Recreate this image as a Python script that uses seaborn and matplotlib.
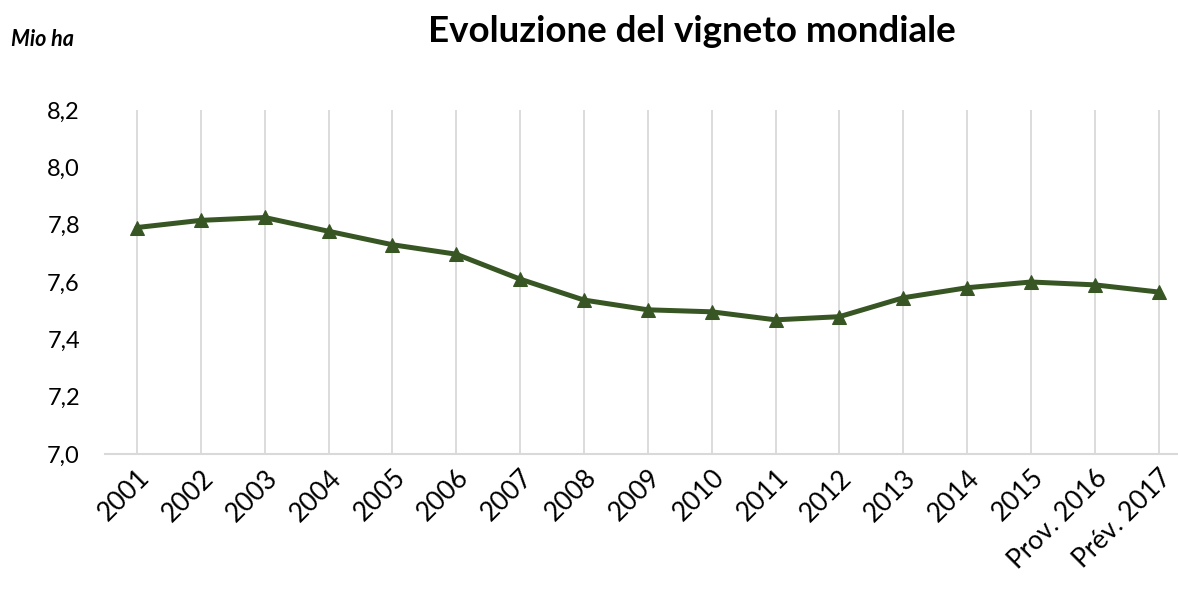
import matplotlib
matplotlib.use("Agg")
import matplotlib.pyplot as plt
import seaborn as sns
import pandas as pd
import numpy as np

categories = ["2001", "2002", "2003", "2004", "2005", "2006", "2007", "2008", "2009",
              "2010", "2011", "2012", "2013", "2014", "2015", "Prov. 2016", "Prév. 2017"]
values = [7.79, 7.815, 7.825, 7.777, 7.73, 7.697, 7.61, 7.537, 7.503,
          7.496, 7.468, 7.479, 7.545, 7.58, 7.60, 7.59, 7.565]
yticks = [7.0, 7.2, 7.4, 7.6, 7.8, 8.0, 8.2]

sns.set_theme(style="white")
plt.rcParams['font.family'] = ['Lato', 'DejaVu Sans']

df = pd.DataFrame({"idx": np.arange(len(categories)), "val": values})

fig = plt.figure(figsize=(11.78, 5.93), dpi=100)
ax = fig.add_axes([105/1178, (593-454)/593, (1178-105)/1178, (454-110)/593])

ax.grid(False)
for i in range(len(categories)):
    ax.axvline(i, color="#D9D9D9", lw=1.3, zorder=0)

color = "#375623"
sns.lineplot(data=df, x="idx", y="val", ax=ax, color=color, lw=3.6,
             marker="^", markersize=10, markeredgecolor=color, markerfacecolor=color,
             zorder=3)

ax.set_ylim(7.0, 8.2)
ax.set_xlim(-0.5, 16 + (1178 - 1158.7) / 63.84)
ax.set_yticks(yticks)
ax.set_yticklabels([f"{v:.1f}".replace(".", ",") for v in yticks], fontsize=17, color="#000000")
ax.set_xticks(range(len(categories)))
ax.set_xticklabels(categories, rotation=45, ha="right", rotation_mode="anchor",
                   fontsize=19, color="#000000")
ax.tick_params(axis="both", length=0)
ax.tick_params(axis="y", pad=18)
ax.tick_params(axis="x", pad=8)
ax.set_xlabel("")
ax.set_ylabel("")

for s in ["top", "right", "left"]:
    ax.spines[s].set_visible(False)
ax.spines["bottom"].set_color("#D9D9D9")
ax.spines["bottom"].set_linewidth(1.5)

fig.text(0.587, 1 - 31/593, "Evoluzione del vigneto mondiale", ha="center", va="center",
         fontsize=26.5, fontweight="bold", color="#000000")
fig.text(11/1178, 1 - 40/593, "Mio ha", ha="left", va="center",
         fontsize=15.5, fontweight="bold", fontstyle="italic", color="#000000")

fig.savefig("out.png", dpi=100)
